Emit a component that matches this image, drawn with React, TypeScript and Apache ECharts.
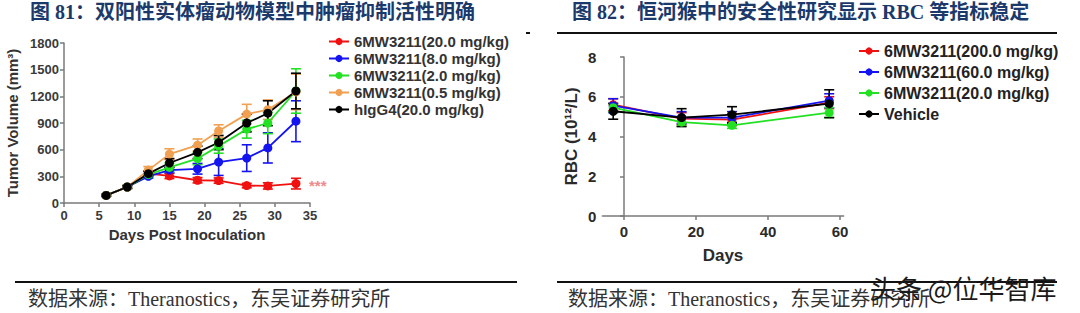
import React, { useEffect, useRef } from "react";
import * as echarts from "echarts";

// ---- Figure 81 data: tumor volume (mm3) vs days post inoculation ----
const volDays = [6, 9, 12, 15, 19, 22, 26, 29, 33];
const vol20 = [85, 180, 330, 305, 256, 252, 196, 192, 218];
const vol20Err = [10, 15, 25, 30, 30, 30, 25, 35, 60];
const vol8 = [85, 180, 300, 370, 385, 460, 505, 620, 920];
const vol8Err = [10, 15, 20, 30, 60, 150, 150, 170, 230];
const vol2 = [85, 180, 320, 400, 500, 640, 830, 900, 1260];
const vol2Err = [10, 15, 30, 50, 70, 80, 100, 120, 250];
const vol05 = [85, 180, 370, 550, 650, 810, 1000, 1050, 1250];
const vol05Err = [10, 15, 40, 60, 70, 70, 110, 110, 200];
const volIgG = [85, 180, 330, 450, 570, 680, 900, 1010, 1260];
const volIgGErr = [10, 15, 30, 50, 70, 80, 100, 140, 200];
const volNames = [
  "6MW3211(20.0 mg/kg)",
  "6MW3211(8.0 mg/kg)",
  "6MW3211(2.0 mg/kg)",
  "6MW3211(0.5 mg/kg)",
  "hIgG4(20.0 mg/kg)",
];

// ---- Figure 82 data: RBC (10^12/L) vs days ----
const rbcDays = [-3, 16, 30, 57];
const rbc200 = [5.6, 4.9, 4.85, 5.7];
const rbc200Err = [0.3, 0.3, 0.3, 0.3];
const rbc60 = [5.55, 4.95, 4.95, 5.8];
const rbc60Err = [0.35, 0.3, 0.3, 0.35];
const rbc20 = [5.45, 4.72, 4.56, 5.2];
const rbc20Err = [0.2, 0.2, 0.15, 0.25];
const rbcVeh = [5.27, 4.95, 5.1, 5.65];
const rbcVehErr = [0.4, 0.45, 0.4, 0.7];
const rbcNames = [
  "6MW3211(200.0 mg/kg)",
  "6MW3211(60.0 mg/kg)",
  "6MW3211(20.0 mg/kg) ",
  "Vehicle",
];
const rbcTicksX = [0, 20, 40, 60];

const colors = ["#f01010", "#1414f0", "#22e022", "#f0a050", "#000000"];
const rbcColors = ["#f01010", "#1414f0", "#22e022", "#000000"];

const titleLeft = "图 81：双阳性实体瘤动物模型中肿瘤抑制活性明确";
const titleRight = "图 82：恒河猴中的安全性研究显示 RBC 等指标稳定";
const sourceText = "数据来源：Theranostics，东吴证券研究所";

const lineSeries = (name: string, xs: number[], ys: number[], color: string, gi: number) => ({
  type: "line",
  name,
  xAxisIndex: gi,
  yAxisIndex: gi,
  data: xs.map((x, i) => [x, ys[i]]),
  symbol: "circle",
  symbolSize: 9,
  lineStyle: { color, width: 1.8 },
  itemStyle: { color },
  z: 3,
});

const errSeries = (name: string, xs: number[], ys: number[], es: number[], color: string, gi: number) => ({
  type: "custom",
  name: name + "-err",
  xAxisIndex: gi,
  yAxisIndex: gi,
  data: xs.map((x, i) => [x, ys[i] - es[i], ys[i] + es[i]]),
  z: 2,
  renderItem: (params: any, api: any) => {
    const lo = api.coord([api.value(0), api.value(1)]);
    const hi = api.coord([api.value(0), api.value(2)]);
    const w = 5;
    const style = { stroke: color, lineWidth: 1.6 };
    return {
      type: "group",
      children: [
        { type: "line", shape: { x1: lo[0], y1: lo[1], x2: hi[0], y2: hi[1] }, style },
        { type: "line", shape: { x1: lo[0] - w, y1: lo[1], x2: lo[0] + w, y2: lo[1] }, style },
        { type: "line", shape: { x1: hi[0] - w, y1: hi[1], x2: hi[0] + w, y2: hi[1] }, style },
      ],
    };
  },
});

export default function App() {
  const ref = useRef<HTMLDivElement>(null);
  useEffect(() => {
    if (!ref.current) return;
    const chart = echarts.init(ref.current, null, { renderer: "svg" });
    const sans = "Liberation Sans, Arial, sans-serif";
    const axisLine = { lineStyle: { color: "#7a7a7a", width: 1.5 } };
    const axisTick = { show: true, length: 4, lineStyle: { color: "#7a7a7a", width: 1.5 } };
    const labelL = { color: "#3a3a3a", fontWeight: "bold", fontSize: 13, fontFamily: sans };
    const labelR = { color: "#2a2a2a", fontWeight: "bold", fontSize: 15, fontFamily: sans };

    const volSets = [
      [vol20, vol20Err],
      [vol8, vol8Err],
      [vol2, vol2Err],
      [vol05, vol05Err],
      [volIgG, volIgGErr],
    ];
    const rbcSets = [
      [rbc200, rbc200Err],
      [rbc60, rbc60Err],
      [rbc20, rbc20Err],
      [rbcVeh, rbcVehErr],
    ];
    const series: any[] = [];
    volSets.forEach((s, i) => series.push(errSeries(volNames[i], volDays, s[0], s[1], colors[i], 0)));
    volSets.forEach((s, i) => series.push(lineSeries(volNames[i], volDays, s[0], colors[i], 0)));
    rbcSets.forEach((s, i) => series.push(errSeries(rbcNames[i], rbcDays, s[0], s[1], rbcColors[i], 1)));
    rbcSets.forEach((s, i) => series.push(lineSeries(rbcNames[i], rbcDays, s[0], rbcColors[i], 1)));

    const serif = "Liberation Serif, Noto Sans CJK SC, serif";
    chart.setOption({
      animation: false,
      backgroundColor: "#ffffff",
      grid: [
        { left: 64, top: 43, width: 246, height: 160 },
        { left: 602.4, top: 57, width: 241.2, height: 159 },
      ],
      xAxis: [
        {
          type: "value", gridIndex: 0, min: 0, max: 35, interval: 5,
          axisLine, axisTick, splitLine: { show: false }, axisLabel: { ...labelL, margin: 6 },
          name: "Days Post Inoculation", nameLocation: "middle", nameGap: 23,
          nameTextStyle: { color: "#333", fontWeight: "bold", fontSize: 15, fontFamily: sans },
        },
        {
          type: "value", gridIndex: 1, min: -6, max: 61,
          axisLine, splitLine: { show: false },
          axisTick: { ...axisTick, customValues: rbcTicksX },
          axisLabel: { ...labelR, margin: 8, customValues: rbcTicksX },
          name: "Days", nameLocation: "middle", nameGap: 31,
          nameTextStyle: { color: "#2a2a2a", fontWeight: "bold", fontSize: 17, fontFamily: sans },
        },
      ],
      yAxis: [
        {
          type: "value", gridIndex: 0, min: 0, max: 1800, interval: 300,
          axisLine: { show: true, ...axisLine }, axisTick, splitLine: { show: false },
          axisLabel: { ...labelL, margin: 5, formatter: (v: number) => String(v) },
          name: "Tumor Volume (mm³)", nameLocation: "middle", nameGap: 44,
          nameTextStyle: { color: "#333", fontWeight: "bold", fontSize: 15, fontFamily: sans },
        },
        {
          type: "value", gridIndex: 1, min: 0, max: 8, interval: 2,
          axisLine: { show: true, ...axisLine }, axisTick, splitLine: { show: false }, axisLabel: { ...labelR, margin: 6 },
          name: "RBC (10¹²/L)", nameLocation: "middle", nameGap: 22,
          nameTextStyle: { color: "#2a2a2a", fontWeight: "bold", fontSize: 17, fontFamily: sans },
        },
      ],
      legend: [
        {
          data: volNames, orient: "vertical", left: 323, top: 29, itemWidth: 20, itemHeight: 9, itemGap: 2,
          textStyle: { color: "#333", fontWeight: "bold", fontSize: 15, fontFamily: sans },
        },
        {
          data: rbcNames, orient: "vertical", left: 853, top: 38, itemWidth: 20, itemHeight: 9, itemGap: 5,
          textStyle: { color: "#222", fontWeight: "bold", fontSize: 16, fontFamily: sans },
        },
      ],
      series,
      graphic: [
        { type: "text", left: 30, top: 2, style: { text: titleLeft, fill: "#1b3a6b", font: `bold 20px ${serif}` } },
        { type: "text", left: 572, top: 2, style: { text: titleRight, fill: "#1b3a6b", font: `bold 20px ${serif}` } },
        { type: "rect", shape: { x: 557, y: 32, width: 500, height: 2 }, style: { fill: "#111" } },
        { type: "rect", shape: { x: 526, y: 32, width: 4, height: 2 }, style: { fill: "#111" } },
        { type: "text", left: 309, top: 178, style: { text: "***", fill: "#ee8a8a", font: `bold 15px Liberation Sans, sans-serif` } },
        { type: "rect", shape: { x: 15, y: 281, width: 502, height: 2 }, style: { fill: "#111" } },
        { type: "rect", shape: { x: 557, y: 281, width: 500, height: 2 }, style: { fill: "#111" } },
        { type: "text", left: 28, top: 289, style: { text: sourceText, fill: "#333", font: `20px ${serif}` } },
        { type: "text", left: 568, top: 289, style: { text: sourceText, fill: "#333", font: `20px ${serif}` } },
        { type: "text", left: 870, top: 274, style: { text: "头条 @位华智库", fill: "#1a1a1a", font: `26px Noto Sans CJK SC, sans-serif` } },
      ],
    });
    return () => chart.dispose();
  }, []);
  return <div ref={ref} style={{ position: "fixed", left: 0, top: 0, width: 1080, height: 313 }} />;
}
